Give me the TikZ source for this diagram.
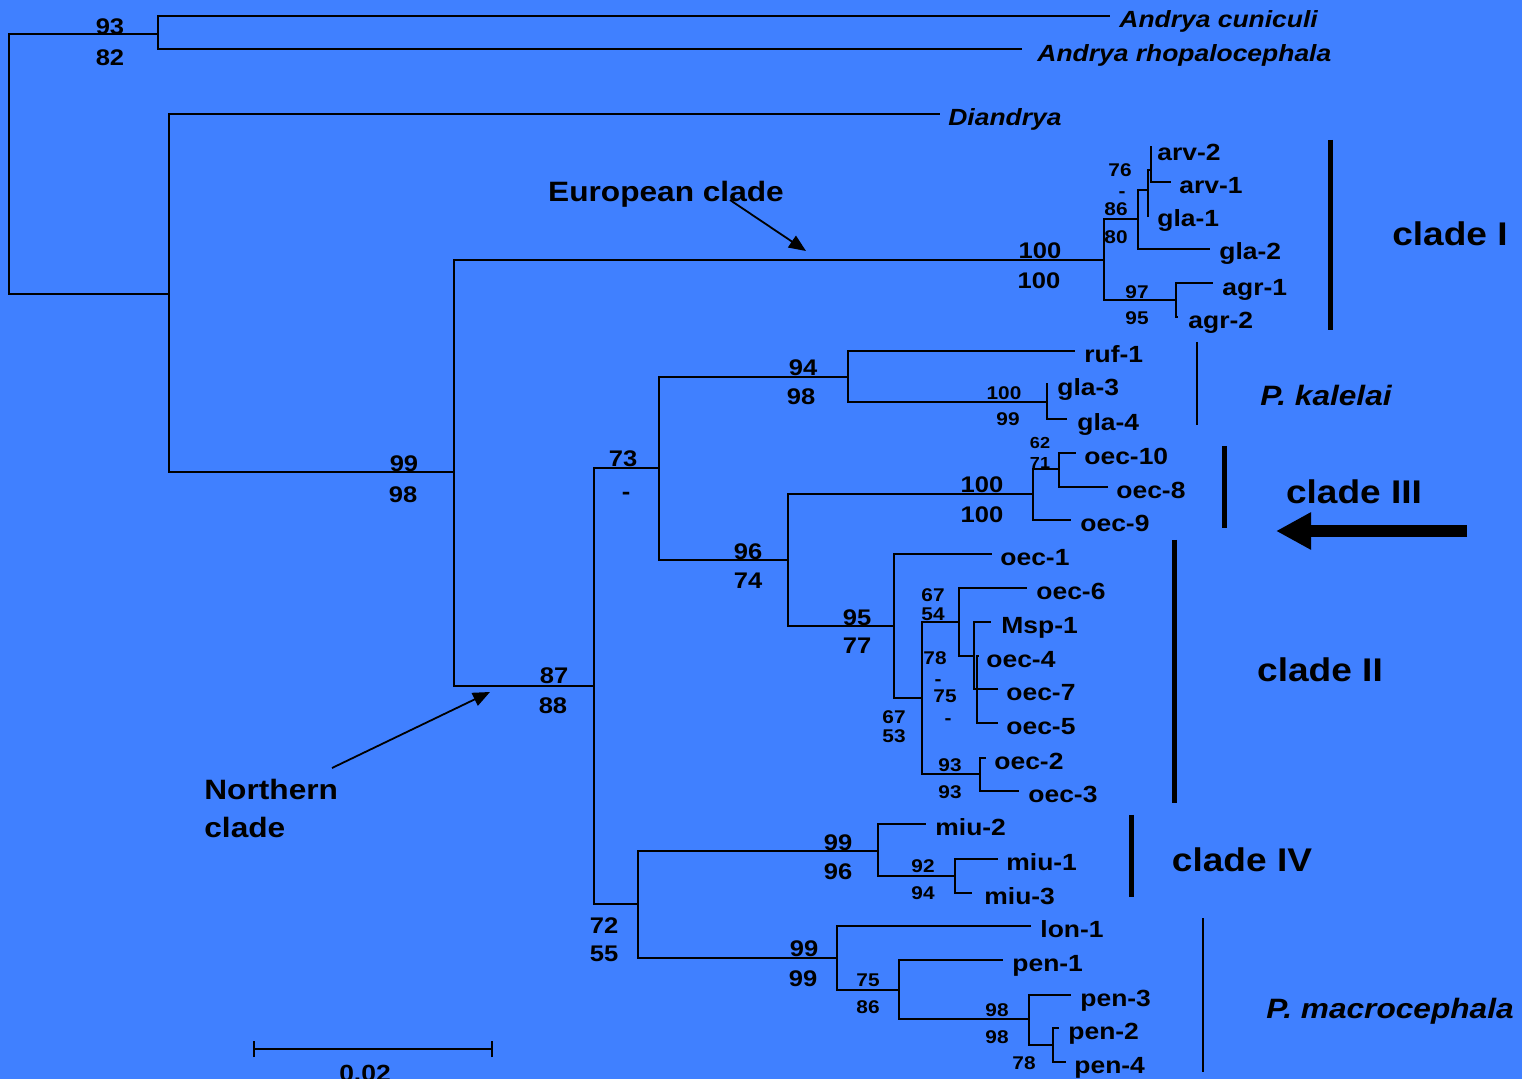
\documentclass[tikz,border=0pt]{standalone}
\usepackage{fontspec}
\setmainfont{Liberation Sans}[FakeStretch=1.13]
\usetikzlibrary{arrows.meta}
\definecolor{bgblue}{RGB}{64,128,255}
\begin{document}
\begin{tikzpicture}[x=0.5pt,y=-0.5pt,
  br/.style={line width=0.8pt},
  leaf/.style={font=\fontsize{11.7}{13}\selectfont\bfseries, inner sep=0pt, text height=8.4pt, text depth=0pt, anchor=west},
  sp/.style={leaf, font=\fontsize{11.7}{13}\selectfont\bfseries\itshape},
  bsb/.style={font=\fontsize{11.3}{13}\selectfont\bfseries, inner sep=0pt, text height=8.1pt, text depth=0pt},
  bss/.style={font=\fontsize{9.2}{11}\selectfont\bfseries, inner sep=0pt, text height=6.6pt, text depth=0pt},
  bst/.style={font=\fontsize{8}{10}\selectfont\bfseries, inner sep=0pt, text height=5.7pt, text depth=0pt},
  cladebig/.style={font=\fontsize{16.4}{19}\selectfont\bfseries, inner sep=0pt, text height=11.7pt, text depth=0pt},
  cladeit/.style={font=\fontsize{14}{17}\selectfont\bfseries\itshape, inner sep=0pt, text height=10pt, text depth=0pt},
  annot/.style={font=\fontsize{14}{17}\selectfont\bfseries, inner sep=0pt, text height=10pt, text depth=0pt},
  thickbar/.style={line width=2.5pt},
  thinbar/.style={line width=1.2pt},
  pointer/.style={line width=0.9pt, -{Triangle[length=8.5pt,width=7pt]}}
]
\fill[bgblue] (0,0) rectangle (1522,1079);
\useasboundingbox (0,0) rectangle (1522,1079);

% internal nodes
\coordinate (root) at (9,164);
\coordinate (nA) at (158,34);
\coordinate (nB) at (169,294);
\coordinate (nC) at (454,472);
\coordinate (nI) at (1104,260);
\coordinate (n1a) at (1138,219);
\coordinate (n1b) at (1148,190);
\coordinate (n1c) at (1151,170);
\coordinate (n1d) at (1176,300);
\coordinate (nD) at (594,686);
\coordinate (nE) at (659,468);
\coordinate (nF) at (638,904);
\coordinate (nG) at (848,377);
\coordinate (nGg) at (1047,402);
\coordinate (nH) at (788,560);
\coordinate (nJ) at (1033,494);
\coordinate (nJa) at (1059,469);
\coordinate (nK) at (894,626);
\coordinate (nL) at (922,698);
\coordinate (nM) at (959,622);
\coordinate (nO) at (974,656);
\coordinate (nP) at (977,689);
\coordinate (nN) at (980,774);
\coordinate (nQ) at (878,851);
\coordinate (nQa) at (955,876);
\coordinate (nR) at (837,958);
\coordinate (nS) at (899,990);
\coordinate (nT) at (1029,1019);
\coordinate (nU) at (1053,1045);

% leaves
\coordinate (lAc) at (1110,16);
\coordinate (lAr) at (1022,49);
\coordinate (lDi) at (940,114);
\coordinate (arv2) at (1152,147);
\coordinate (arv1) at (1171,182);
\coordinate (gla1) at (1149,216);
\coordinate (gla2) at (1210,249);
\coordinate (agr1) at (1213,283);
\coordinate (agr2) at (1178,317);
\coordinate (ruf1) at (1075,351);
\coordinate (gla3) at (1048,384);
\coordinate (gla4) at (1067,419);
\coordinate (oec10) at (1076,453);
\coordinate (oec8) at (1108,487);
\coordinate (oec9) at (1071,520);
\coordinate (oec1) at (992,554);
\coordinate (oec6) at (1027,588);
\coordinate (msp1) at (991,622);
\coordinate (oec4) at (979,656);
\coordinate (oec7) at (998,689);
\coordinate (oec5) at (998,723);
\coordinate (oec2) at (986,758);
\coordinate (oec3) at (1019,791);
\coordinate (miu2) at (926,824);
\coordinate (miu1) at (998,859);
\coordinate (miu3) at (972,893);
\coordinate (lon1) at (1031,926);
\coordinate (pen1) at (1003,960);
\coordinate (pen3) at (1071,995);
\coordinate (pen2) at (1059,1028);
\coordinate (pen4) at (1066,1062);

% branches
\foreach \p/\c in {root/nA, root/nB, nA/lAc, nA/lAr, nB/lDi, nB/nC,
  nC/nI, nC/nD, nI/n1a, nI/n1d, n1a/n1b, n1a/gla2, n1b/n1c, n1b/gla1,
  n1c/arv2, n1c/arv1, n1d/agr1, n1d/agr2,
  nD/nE, nD/nF, nE/nG, nE/nH, nG/ruf1, nG/nGg, nGg/gla3, nGg/gla4,
  nH/nJ, nH/nK, nJ/nJa, nJ/oec9, nJa/oec10, nJa/oec8,
  nK/oec1, nK/nL, nL/nM, nL/nN, nM/oec6, nM/nO, nO/msp1, nO/oec7, nO/nP,
  nP/oec4, nP/oec5, nN/oec2, nN/oec3,
  nF/nQ, nF/nR, nQ/miu2, nQ/nQa, nQa/miu1, nQa/miu3,
  nR/lon1, nR/nS, nS/pen1, nS/nT, nT/pen3, nT/nU, nU/pen2, nU/pen4}
  \draw[br] (\p) |- (\c);

% taxon labels
\node[sp] (tAc) at (1119,19) {Andrya cuniculi};
\node[sp] (tAr) at (1037,53) {Andrya rhopalocephala};
\node[sp] (tDi) at (948,117) {Diandrya};
\node[leaf] (t-arv2) at (1157,152) {arv-2};
\node[leaf] (t-arv1) at (1179,185) {arv-1};
\node[leaf] (t-gla1) at (1157,218) {gla-1};
\node[leaf] (t-gla2) at (1219,251) {gla-2};
\node[leaf] (t-agr1) at (1222,287) {agr-1};
\node[leaf] (t-agr2) at (1188,320) {agr-2};
\node[leaf] (t-ruf1) at (1084,354) {ruf-1};
\node[leaf] (t-gla3) at (1057,387) {gla-3};
\node[leaf] (t-gla4) at (1077,422) {gla-4};
\node[leaf] (t-oec10) at (1084,456) {oec-10};
\node[leaf] (t-oec8) at (1116,490) {oec-8};
\node[leaf] (t-oec9) at (1080,523) {oec-9};
\node[leaf] (t-oec1) at (1000,557) {oec-1};
\node[leaf] (t-oec6) at (1036,591) {oec-6};
\node[leaf] (t-msp1) at (1001,625) {Msp-1};
\node[leaf] (t-oec4) at (986,659) {oec-4};
\node[leaf] (t-oec7) at (1006,692) {oec-7};
\node[leaf] (t-oec5) at (1006,726) {oec-5};
\node[leaf] (t-oec2) at (994,761) {oec-2};
\node[leaf] (t-oec3) at (1028,794) {oec-3};
\node[leaf] (t-miu2) at (935,827) {miu-2};
\node[leaf] (t-miu1) at (1006,862) {miu-1};
\node[leaf] (t-miu3) at (984,896) {miu-3};
\node[leaf] (t-lon1) at (1040,929) {lon-1};
\node[leaf] (t-pen1) at (1012,963) {pen-1};
\node[leaf] (t-pen3) at (1080,998) {pen-3};
\node[leaf] (t-pen2) at (1068,1031) {pen-2};
\node[leaf] (t-pen4) at (1074,1065) {pen-4};

% bootstrap values (large)
\node[bsb] (b1) at (110,26) {93};
\node[bsb] (b2) at (110,57) {82};
\node[bsb] (b3) at (404,463) {99};
\node[bsb] (b4) at (403,494) {98};
\node[bsb] (b5) at (1040,250) {100};
\node[bsb] (b6) at (1039,280) {100};
\node[bsb] (b7) at (554,675) {87};
\node[bsb] (b8) at (553,705) {88};
\node[bsb] (b9) at (623,458) {73};
\node[bsb] (b10) at (626,491) {-};
\node[bsb] (b11) at (803,367) {94};
\node[bsb] (b12) at (801,396) {98};
\node[bsb] (b13) at (748,551) {96};
\node[bsb] (b14) at (748,580) {74};
\node[bsb] (b15) at (857,617) {95};
\node[bsb] (b16) at (857,645) {77};
\node[bsb] (b17) at (982,484) {100};
\node[bsb] (b18) at (982,514) {100};
\node[bsb] (b19) at (604,925) {72};
\node[bsb] (b20) at (604,953) {55};
\node[bsb] (b21) at (838,842) {99};
\node[bsb] (b22) at (838,871) {96};
\node[bsb] (b23) at (804,948) {99};
\node[bsb] (b24) at (803,978) {99};

% bootstrap values (small)
\node[bss] (s1) at (1120,170) {76};
\node[bss] (s2) at (1122,191) {-};
\node[bss] (s3) at (1116,209) {86};
\node[bss] (s4) at (1116,237) {80};
\node[bss] (s5) at (1137,292) {97};
\node[bss] (s6) at (1137,318) {95};
\node[bss] (s7) at (1004,393) {100};
\node[bss] (s8) at (1008,419) {99};
\node[bst] (s9) at (1040,443) {62};
\node[bst] (s10) at (1040,463) {71};
\node[bss] (s11) at (933,595) {67};
\node[bss] (s12) at (933,614) {54};
\node[bss] (s13) at (935,658) {78};
\node[bss] (s14) at (938,679) {-};
\node[bss] (s15) at (945,696) {75};
\node[bss] (s16) at (948,718) {-};
\node[bss] (s17) at (894,717) {67};
\node[bss] (s18) at (894,736) {53};
\node[bss] (s19) at (950,765) {93};
\node[bss] (s20) at (950,792) {93};
\node[bss] (s21) at (923,866) {92};
\node[bss] (s22) at (923,893) {94};
\node[bss] (s23) at (868,980) {75};
\node[bss] (s24) at (868,1007) {86};
\node[bss] (s25) at (997,1010) {98};
\node[bss] (s26) at (997,1037) {98};
\node[bss] (s27) at (1024,1063) {78};

% clade bars
\coordinate (c1t) at (1330,140); \coordinate (c1b) at (1330,330);
\coordinate (ckt) at (1197,342); \coordinate (ckb) at (1197,425);
\coordinate (c3t) at (1224,446); \coordinate (c3b) at (1224,528);
\coordinate (c2t) at (1174,540); \coordinate (c2b) at (1174,803);
\coordinate (c4t) at (1131,815); \coordinate (c4b) at (1131,897);
\coordinate (cmt) at (1203,918); \coordinate (cmb) at (1203,1072);
\draw[thickbar] (c1t) -- (c1b);
\draw[thinbar] (ckt) -- (ckb);
\draw[thickbar] (c3t) -- (c3b);
\draw[thickbar] (c2t) -- (c2b);
\draw[thickbar] (c4t) -- (c4b);
\draw[thinbar] (cmt) -- (cmb);

% clade names
\node[cladebig] (cI) at (1450,234) {clade I};
\node[cladeit] (cK) at (1326,396) {P. kalelai};
\node[cladebig] (cIII) at (1354,492) {clade III};
\node[cladebig] (cII) at (1320,670) {clade II};
\node[cladebig] (cIV) at (1242,860) {clade IV};
\node[cladeit] (cM) at (1390,1008) {P. macrocephala};

% big arrow
\coordinate (bigS) at (1467,531);
\coordinate (bigE) at (1276,531);
\draw[line width=6pt, -{Triangle[length=17.5pt,width=17.5pt]}] (bigS) -- (bigE);

% annotations
\node[annot] (eu) at (666,192) {European clade};
\coordinate (euS) at (730,200);
\coordinate (euE) at (806,251);
\draw[pointer] (euS) -- (euE);
\node[annot, anchor=west] (no1) at (204,790) {Northern};
\node[annot, anchor=west] (no2) at (204,828) {clade};
\coordinate (noS) at (332,768);
\coordinate (noE) at (490,692);
\draw[pointer] (noS) -- (noE);

% scale bar
\coordinate (sbL) at (254,1049);
\coordinate (sbR) at (492,1049);
\draw[line width=0.9pt] (sbL) -- (sbR);
\draw[line width=0.9pt] ([yshift=-4pt]sbL) -- ([yshift=4pt]sbL);
\draw[line width=0.9pt] ([yshift=-4pt]sbR) -- ([yshift=4pt]sbR);
\node[bsb, font=\fontsize{11.7}{13}\selectfont\bfseries] (sbT) at (365,1073) {0.02};
\end{tikzpicture}
\end{document}
